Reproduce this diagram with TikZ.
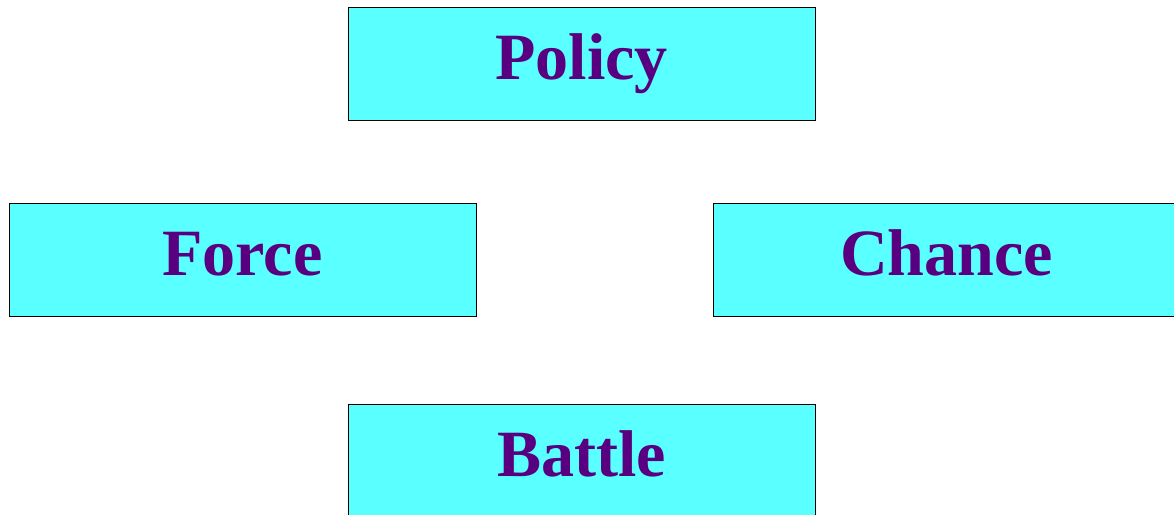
\documentclass[tikz,border=0pt]{standalone}
\usepackage{fontspec}
\setmainfont{Liberation Serif}
\usepackage{xcolor}
\usepackage{tikz}
\usetikzlibrary{positioning}

\definecolor{boxcyan}{HTML}{5AFFFF}
\definecolor{labelpurple}{HTML}{580080}

\begin{document}
\begin{tikzpicture}[x=0.025cm, y=-0.025cm,
        font=\fontsize{47}{50}\selectfont\bfseries,
        factor/.style={draw=black, line width=0.6pt, fill=boxcyan,
                       text=labelpurple, inner sep=0pt,
                       text height=1.1cm, text depth=0.3cm,
                       minimum width=11.675cm, minimum height=2.825cm}]
      \useasboundingbox (0,0) rectangle (1174,514);
      \clip (0,0) rectangle (1174,514);
      \node[factor] (policy) at (581.5,63.5) {Policy};
      \node[factor] (force) at (242.5,259.5) {Force};
      \node[factor] (chance) at (946.5,259.5) {Chance};
      \node[factor, below=7.075cm of policy] (battle) {Battle};
    \end{tikzpicture}
\end{document}
